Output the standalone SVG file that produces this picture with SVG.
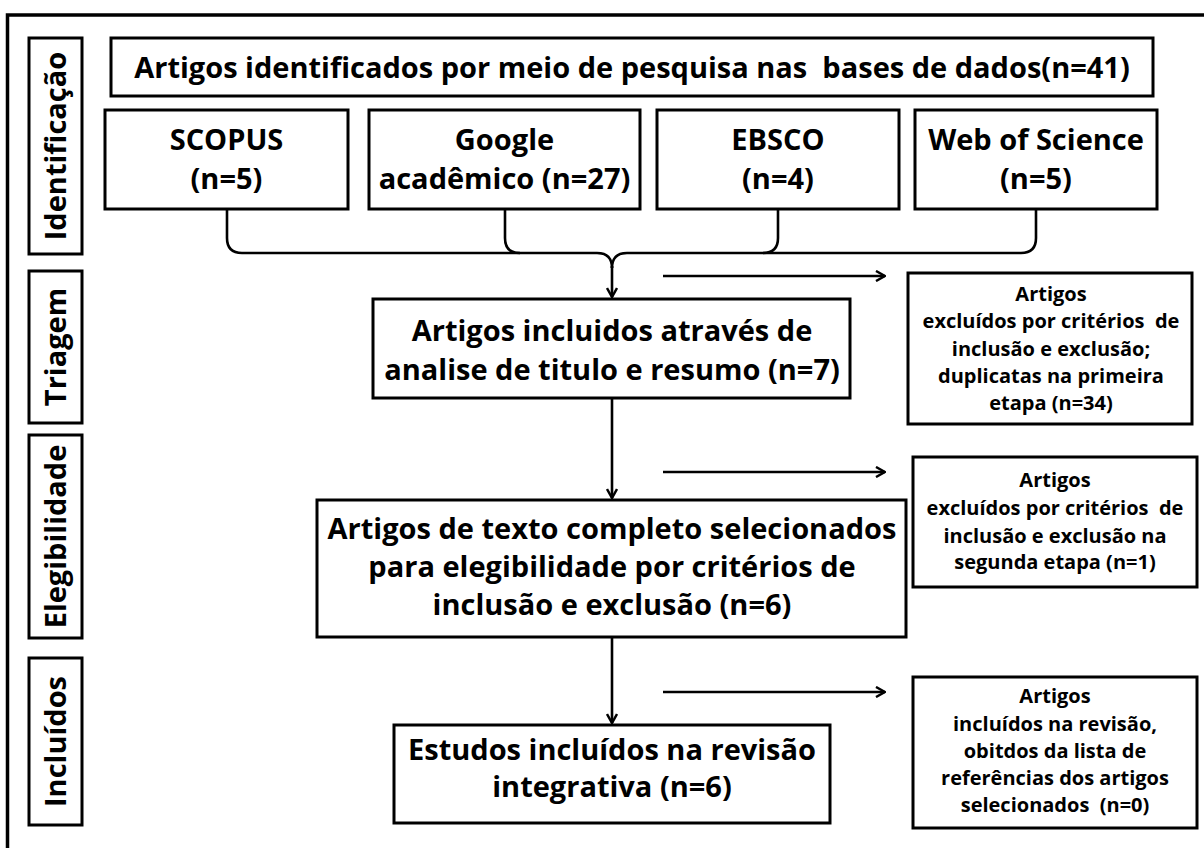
<svg xmlns="http://www.w3.org/2000/svg" width="1204" height="848" viewBox="0 0 1204 848">
<defs>
<style>
.box{fill:#fff;stroke:#000;stroke-width:3}
.frame{fill:none;stroke:#000;stroke-width:3.5}
.t{font-family:"Open Sans","Noto Sans","DejaVu Sans",sans-serif;font-weight:700;fill:#000;text-anchor:middle;white-space:pre}
.big{font-size:29px}
.small{font-size:20px}
.con{fill:none;stroke:#000;stroke-width:2.6;stroke-linejoin:round}
</style>
<marker id="arr" viewBox="0 0 12 12" refX="11" refY="6" markerWidth="12" markerHeight="12" orient="auto" markerUnits="userSpaceOnUse">
<path d="M2,1 L11,6 L2,11" fill="none" stroke="#000" stroke-width="2.5"/>
</marker>
</defs>
<rect width="1204" height="848" fill="#fff"/>
<rect class="frame" x="7.5" y="15" width="1300" height="900"/>

<g id="lbl-identificacao">
<rect class="box" x="29" y="38" width="53" height="216"/>
<text class="t big" transform="translate(66,146) rotate(-90)">Identificação</text>
</g>
<g id="lbl-triagem">
<rect class="box" x="29" y="271" width="53" height="152"/>
<text class="t big" transform="translate(66,347) rotate(-90)">Triagem</text>
</g>
<g id="lbl-elegibilidade">
<rect class="box" x="29" y="435" width="53" height="203"/>
<text class="t big" transform="translate(66,536.5) rotate(-90)">Elegibilidade</text>
</g>
<g id="lbl-incluidos">
<rect class="box" x="29" y="658" width="53" height="167"/>
<text class="t big" transform="translate(66,741.5) rotate(-90)">Incluídos</text>
</g>

<g id="n-top">
<rect class="box" x="111" y="38" width="1042" height="58"/>
<text class="t big" x="632" y="78">Artigos identificados por meio de pesquisa nas  bases de dados(n=41)</text>
</g>
<g id="n-scopus">
<rect class="box" x="105" y="110" width="243" height="99"/>
<text class="t big" x="226.5" y="150">SCOPUS</text>
<text class="t big" x="226.5" y="189">(n=5)</text>
</g>
<g id="n-google">
<rect class="box" x="369" y="110" width="271" height="99"/>
<text class="t big" x="504.5" y="150">Google</text>
<text class="t big" x="504.5" y="189">acadêmico (n=27)</text>
</g>
<g id="n-ebsco">
<rect class="box" x="657" y="110" width="242" height="99"/>
<text class="t big" x="778" y="150">EBSCO</text>
<text class="t big" x="778" y="189">(n=4)</text>
</g>
<g id="n-wos">
<rect class="box" x="915" y="110" width="242" height="99"/>
<text class="t big" x="1036" y="150">Web of Science</text>
<text class="t big" x="1036" y="189">(n=5)</text>
</g>

<g id="n-triagem">
<rect class="box" x="373" y="299" width="477" height="99"/>
<text class="t big" x="612" y="341">Artigos incluidos através de</text>
<text class="t big" x="612" y="380">analise de titulo e resumo (n=7)</text>
</g>
<g id="n-eleg">
<rect class="box" x="317" y="500" width="589" height="137"/>
<text class="t big" x="612" y="539">Artigos de texto completo selecionados</text>
<text class="t big" x="612" y="577">para elegibilidade por critérios de</text>
<text class="t big" x="612" y="615">inclusão e exclusão (n=6)</text>
</g>
<g id="n-incl">
<rect class="box" x="394" y="725" width="436" height="98"/>
<text class="t big" x="612" y="760">Estudos incluídos na revisão</text>
<text class="t big" x="612" y="797">integrativa (n=6)</text>
</g>

<g id="n-excl1">
<rect class="box" x="908" y="273" width="284" height="151"/>
<text class="t small" x="1051" y="301">Artigos</text>
<text class="t small" x="1051" y="328">excluídos por critérios  de</text>
<text class="t small" x="1051" y="356">inclusão e exclusão;</text>
<text class="t small" x="1051" y="383">duplicatas na primeira</text>
<text class="t small" x="1051" y="410">etapa (n=34)</text>
</g>
<g id="n-excl2">
<rect class="box" x="913" y="457" width="284" height="130"/>
<text class="t small" x="1055" y="487">Artigos</text>
<text class="t small" x="1055" y="515">excluídos por critérios  de</text>
<text class="t small" x="1055" y="543">inclusão e exclusão na</text>
<text class="t small" x="1055" y="569">segunda etapa (n=1)</text>
</g>
<g id="n-incl2">
<rect class="box" x="913" y="677" width="284" height="151"/>
<text class="t small" x="1055" y="703">Artigos</text>
<text class="t small" x="1055" y="731">incluídos na revisão,</text>
<text class="t small" x="1055" y="758">obitdos da lista de</text>
<text class="t small" x="1055" y="785">referências dos artigos</text>
<text class="t small" x="1055" y="812">selecionados  (n=0)</text>
</g>

<g id="connectors">
<path class="con" d="M227,209 V238 Q227,253 242,253 H597 Q612,253 612,268"/>
<path class="con" d="M505,209 V238 Q505,253 520,253"/>
<path class="con" d="M778,209 V238 Q778,253 763,253"/>
<path class="con" d="M1036,209 V238 Q1036,253 1021,253 H627 Q612,253 612,268"/>
<path class="con" d="M612,266 V297" marker-end="url(#arr)"/>
<path class="con" d="M612,398 V498" marker-end="url(#arr)"/>
<path class="con" d="M612,637 V723" marker-end="url(#arr)"/>
<path class="con" d="M663,276 H885" marker-end="url(#arr)"/>
<path class="con" d="M663,472 H885" marker-end="url(#arr)"/>
<path class="con" d="M663,692 H885" marker-end="url(#arr)"/>
</g>
</svg>
